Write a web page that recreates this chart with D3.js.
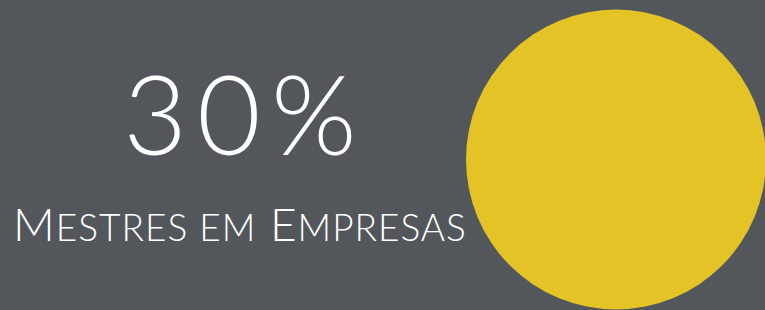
<!DOCTYPE html>
<html>
<head>
<meta charset="utf-8">
<script src="https://cdn.jsdelivr.net/npm/d3@7"></script>
<style>
	body { margin: 0; background: #53575c; }
	svg { display: block; }
</style>
</head>
<body>
<svg id="chart"></svg>
<script>
// values
const values = [30];
const labels = ["Mestres em Empresas"];
const maxValue = 100;

const width = 765;
const height = 310;

const svg = d3.select("#chart").attr("width", width).attr("height", height);

svg.append("rect") //background
	.attr("width", width)
	.attr("height", height)
	.attr("fill", "#53575c");

// circle on the right
svg.selectAll(".dot")
	.data(values)
	.enter()
	.append("circle")
	.attr("class", "dot")
	.attr("cx", 616)
	.attr("cy", 159.5)
	.attr("r", 150)
	.attr("fill", "#e3c326");

const fmt = d3.format(".0%");

svg.selectAll(".value")
	.data(values)
	.enter()
	.append("text")
	.attr("class", "value")
	.attr("x", 245) //trailing letter-spacing shifts the centre
	.attr("y", 155)
	.attr("text-anchor", "middle")
	.attr("fill", "#ffffff")
	.style("font-family", "Lato, sans-serif")
	.style("font-weight", 300)
	.style("font-size", "110px")
	.style("letter-spacing", "10px")
	.text((d) => fmt(d / maxValue));

// label in small caps (first letter of each word larger)
const label = svg.selectAll(".label")
	.data(labels)
	.enter()
	.append("text")
	.attr("class", "label")
	.attr("x", 240)
	.attr("y", 241)
	.attr("text-anchor", "middle")
	.attr("fill", "#ffffff")
	.style("font-family", "Lato, sans-serif")
	.style("font-weight", 300)
	.style("letter-spacing", "1px");

label.each(function (d) {
	const t = d3.select(this);
	d.split(" ").forEach((w, i) => {
		const first = w[0];
		const rest = w.slice(1).toUpperCase();
		const big = first === first.toUpperCase();
		t.append("tspan")
			.style("font-size", big ? "46px" : "37px")
			.text((i > 0 ? " " : "") + first.toUpperCase());
		t.append("tspan").style("font-size", "37px").text(rest);
	});
});
</script>
</body>
</html>
